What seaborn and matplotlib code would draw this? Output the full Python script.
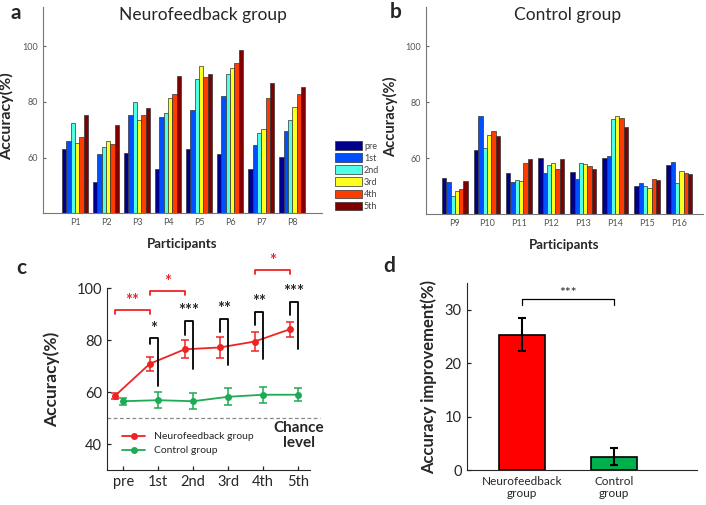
import numpy as np
import pandas as pd
import matplotlib
matplotlib.use("Agg")
import matplotlib.pyplot as plt
import seaborn as sns

# ── Data ────────────────────────────────────────────────────────────────────
sessions = ["pre", "1st", "2nd", "3rd", "4th", "5th"]
nf_participants = ["P1", "P2", "P3", "P4", "P5", "P6", "P7", "P8"]
ctrl_participants = ["P9", "P10", "P11", "P12", "P13", "P14", "P15", "P16"]

# per-session accuracy (%) for each participant, panel a
nf_pre = [62.9, 51.4, 61.8, 55.9, 62.9, 61.1, 55.9, 60.2]
nf_1st = [65.8, 61.1, 75.3, 74.4, 77.2, 82.1, 64.4, 69.6]
nf_2nd = [72.5, 63.7, 80.0, 75.9, 88.2, 90.0, 68.9, 73.5]
nf_3rd = [65.4, 66.0, 73.4, 81.2, 92.8, 92.1, 70.2, 78.1]
nf_4th = [67.2, 64.8, 75.2, 82.9, 88.8, 93.9, 81.4, 82.8]
nf_5th = [75.2, 71.8, 77.9, 89.4, 90.0, 98.7, 86.9, 85.2]

# panel b
ctrl_pre = [52.8, 63.0, 54.7, 60.1, 55.2, 60.1, 50.1, 57.5]
ctrl_1st = [51.4, 75.1, 51.5, 54.6, 52.5, 60.8, 51.3, 58.7]
ctrl_2nd = [46.6, 63.8, 52.2, 57.6, 58.4, 74.0, 50.1, 51.2]
ctrl_3rd = [48.2, 68.2, 52.0, 58.4, 57.8, 74.9, 49.4, 55.3]
ctrl_4th = [49.1, 69.6, 58.4, 56.3, 57.1, 74.3, 52.5, 54.6]
ctrl_5th = [51.9, 68.0, 59.8, 59.8, 56.0, 71.1, 52.1, 54.3]

# panel c: group means and SEM
nf_mean = [58.5, 70.9, 76.5, 77.2, 79.5, 84.2]
nf_sem = [1.3, 2.8, 3.4, 4.0, 3.7, 3.0]
ctrl_mean = [56.5, 56.9, 56.5, 58.2, 59.0, 59.0]
ctrl_sem = [1.3, 3.0, 3.1, 3.2, 3.0, 2.6]
chance_level = 50

# between-group comparison brackets (per session 1st..5th)
between_top = [80.7, 87.4, 88.3, 91.0, 94.8]
between_left_end = [78.5, 82.0, 83.3, 85.8, 89.7]
between_right_end = [62.3, 69.0, 70.3, 72.9, 76.6]
between_stars = ["*", "***", "**", "**", "***"]

# within-group comparison brackets (session index pairs)
within_pairs = [(0, 1), (1, 2), (4, 5)]
within_top = [91.6, 99.0, 107.0]
within_stars = ["**", "*", "*"]

# panel d
groups_d = ["Neurofeedback\ngroup", "Control\ngroup"]
improvement = [25.4, 2.5]
improvement_err = [3.05, 1.6]

# ── Style ───────────────────────────────────────────────────────────────────
sns.set_style("ticks")
plt.rcParams["font.family"] = ["Lato", "DejaVu Sans"]

jet6 = ["#00008C", "#0050FF", "#50FFE6", "#FFFF1E", "#FF3C00", "#800000"]
red = "#EE2424"
green = "#1FAA55"

fig = plt.figure(figsize=(7.06, 5.05), dpi=100)
ax_a = fig.add_axes([0.0613, 0.5776, 0.3944, 0.4085])
ax_b = fig.add_axes([0.603, 0.5756, 0.3928, 0.411])
ax_c = fig.add_axes([0.1516, 0.0693, 0.2875, 0.3598])
ax_d = fig.add_axes([0.661, 0.0693, 0.3258, 0.3697])


def long_form(parts, cols):
    rows = []
    for s, vals in zip(sessions, cols):
        for p, v in zip(parts, vals):
            rows.append({"participant": p, "session": s, "acc": v})
    return pd.DataFrame(rows)


def session_bars(ax, parts, cols, width, title, title_x, ylab_size, legend):
    df = long_form(parts, cols)
    sns.barplot(data=df, x="participant", y="acc", hue="session",
                palette=jet6, width=width, edgecolor="#333333", linewidth=0.5,
                saturation=1, ax=ax, legend=legend)
    ax.set_ylim(40, 114)
    ax.set_yticks([60, 80, 100])
    ax.tick_params(labelsize=6.5, labelcolor="#555555", length=2,
                   direction="in", color="#666666")
    for s in ["top", "right"]:
        ax.spines[s].set_visible(False)
    for s in ["left", "bottom"]:
        ax.spines[s].set_color("#777777")
        ax.spines[s].set_linewidth(0.8)
    ax.set_xlabel("Participants", fontsize=9.5, fontweight="bold", labelpad=8)
    ax.set_ylabel("Accuracy(%)", fontsize=ylab_size, fontweight="bold")
    ax.text(title_x, 0.962, title, transform=ax.transAxes, fontsize=12.5,
            ha="center", va="center")


# ── Panel a ─────────────────────────────────────────────────────────────────
session_bars(ax_a, nf_participants,
             [nf_pre, nf_1st, nf_2nd, nf_3rd, nf_4th, nf_5th],
             0.84, "Neurofeedback group", 0.574, 11.5, True)
ax_a.set_xlim(-1.02, 7.95)
ax_a.yaxis.set_label_coords(-0.105, 0.47)
leg = ax_a.legend(loc="lower left", bbox_to_anchor=(1.025, -0.02), frameon=False,
                  fontsize=6.5, handlelength=3.0, handleheight=1.1,
                  handletextpad=0.2, labelspacing=0.3, borderpad=0.2)
for t in leg.get_texts():
    t.set_color("#444444")
for h in leg.legend_handles:
    h.set_edgecolor("#333333")

# ── Panel b ─────────────────────────────────────────────────────────────────
session_bars(ax_b, ctrl_participants,
             [ctrl_pre, ctrl_1st, ctrl_2nd, ctrl_3rd, ctrl_4th, ctrl_5th],
             0.8, "Control group", 0.51, 10.5, False)
ax_b.set_xlim(-0.91, 7.74)
ax_b.yaxis.set_label_coords(-0.1, 0.47)

# ── Panel c ─────────────────────────────────────────────────────────────────
x = np.arange(len(sessions))
x_nf = x - 0.24
sns.lineplot(x=x_nf, y=nf_mean, color=red, marker="o", markersize=5,
             markeredgewidth=0, linewidth=1.3, label="Neurofeedback group", ax=ax_c)
ax_c.errorbar(x_nf, nf_mean, yerr=nf_sem, fmt="none", ecolor=red,
              elinewidth=1.1, capsize=3, capthick=1.1)
sns.lineplot(x=x, y=ctrl_mean, color=green, marker="o", markersize=5,
             markeredgewidth=0, linewidth=1.3, label="Control group", ax=ax_c)
ax_c.errorbar(x, ctrl_mean, yerr=ctrl_sem, fmt="none", ecolor=green,
              elinewidth=1.1, capsize=3, capthick=1.1)
ax_c.axhline(chance_level, color="#888888", linestyle=(0, (3, 2)), linewidth=0.9,
             xmax=1.05, clip_on=False)

for i in range(1, len(sessions)):
    top = between_top[i - 1]
    ax_c.plot([x_nf[i], x_nf[i], x[i], x[i]],
              [between_left_end[i - 1], top, top, between_right_end[i - 1]],
              color="black", linewidth=1.3, clip_on=False)
    ax_c.text((x_nf[i] + x[i]) / 2, top + 0.6, between_stars[i - 1],
              ha="center", va="bottom", fontsize=12, fontweight="bold")

for (i, j), top, st in zip(within_pairs, within_top, within_stars):
    ax_c.plot([x_nf[i], x_nf[i], x_nf[j], x_nf[j]], [top - 1.6, top, top, top - 1.6],
              color=red, linewidth=1.3, clip_on=False)
    ax_c.text((x_nf[i] + x_nf[j]) / 2, top + 0.3, st, color=red,
              ha="center", va="bottom", fontsize=12, fontweight="bold")

ax_c.text(5.03, 43.4, "Chance\nlevel", ha="center", va="center",
          fontsize=11, fontweight="bold", linespacing=1.1)
ax_c.set_xlim(-0.46, 5.34)
ax_c.set_ylim(30, 100)
ax_c.set_yticks([40, 60, 80, 100])
ax_c.set_xticks(x)
ax_c.set_xticklabels(sessions)
ax_c.tick_params(labelsize=10.5, direction="in", length=3, width=0.9)
ax_c.set_ylabel("Accuracy(%)", fontsize=12.5, fontweight="bold")
ax_c.yaxis.set_label_coords(-0.23, 0.5)
sns.despine(ax=ax_c)
ax_c.legend(loc="lower left", bbox_to_anchor=(0.03, 0.03), frameon=False,
            fontsize=7.5, handlelength=2.2, handletextpad=0.8, labelspacing=0.45)

# ── Panel d ─────────────────────────────────────────────────────────────────
sns.barplot(x=groups_d, y=improvement, hue=groups_d, palette=["#FF0000", "#00B04F"],
            width=0.5, edgecolor="black", linewidth=1.2, saturation=1,
            legend=False, ax=ax_d)
ax_d.errorbar([0, 1], improvement, yerr=improvement_err, fmt="none", ecolor="black",
              elinewidth=1.5, capsize=3, capthick=1.5)
ax_d.plot([0, 0, 1, 1], [31.0, 32.0, 32.0, 31.0], color="black", linewidth=0.9)
ax_d.text(0.5, 32.1, "***", ha="center", va="bottom", fontsize=10)
ax_d.set_xlim(-0.6, 1.9)
ax_d.set_ylim(0, 35)
ax_d.set_yticks([0, 10, 20, 30])
ax_d.tick_params(axis="y", labelsize=10.5, direction="in", length=3, width=0.9)
ax_d.tick_params(axis="x", labelsize=8.5, length=0, pad=4)
ax_d.set_ylabel("Accuracy improvement(%)", fontsize=12, fontweight="bold")
ax_d.yaxis.set_label_coords(-0.13, 0.5)
sns.despine(ax=ax_d)

# panel letters
for lab, (px, py) in zip("abcd", [(16, 13), (396, 12), (21, 268), (389, 266)]):
    fig.text(px / 706, 1 - py / 505, lab, fontsize=15, fontweight="bold",
             ha="center", va="center")

fig.savefig("out.png", dpi=100)
